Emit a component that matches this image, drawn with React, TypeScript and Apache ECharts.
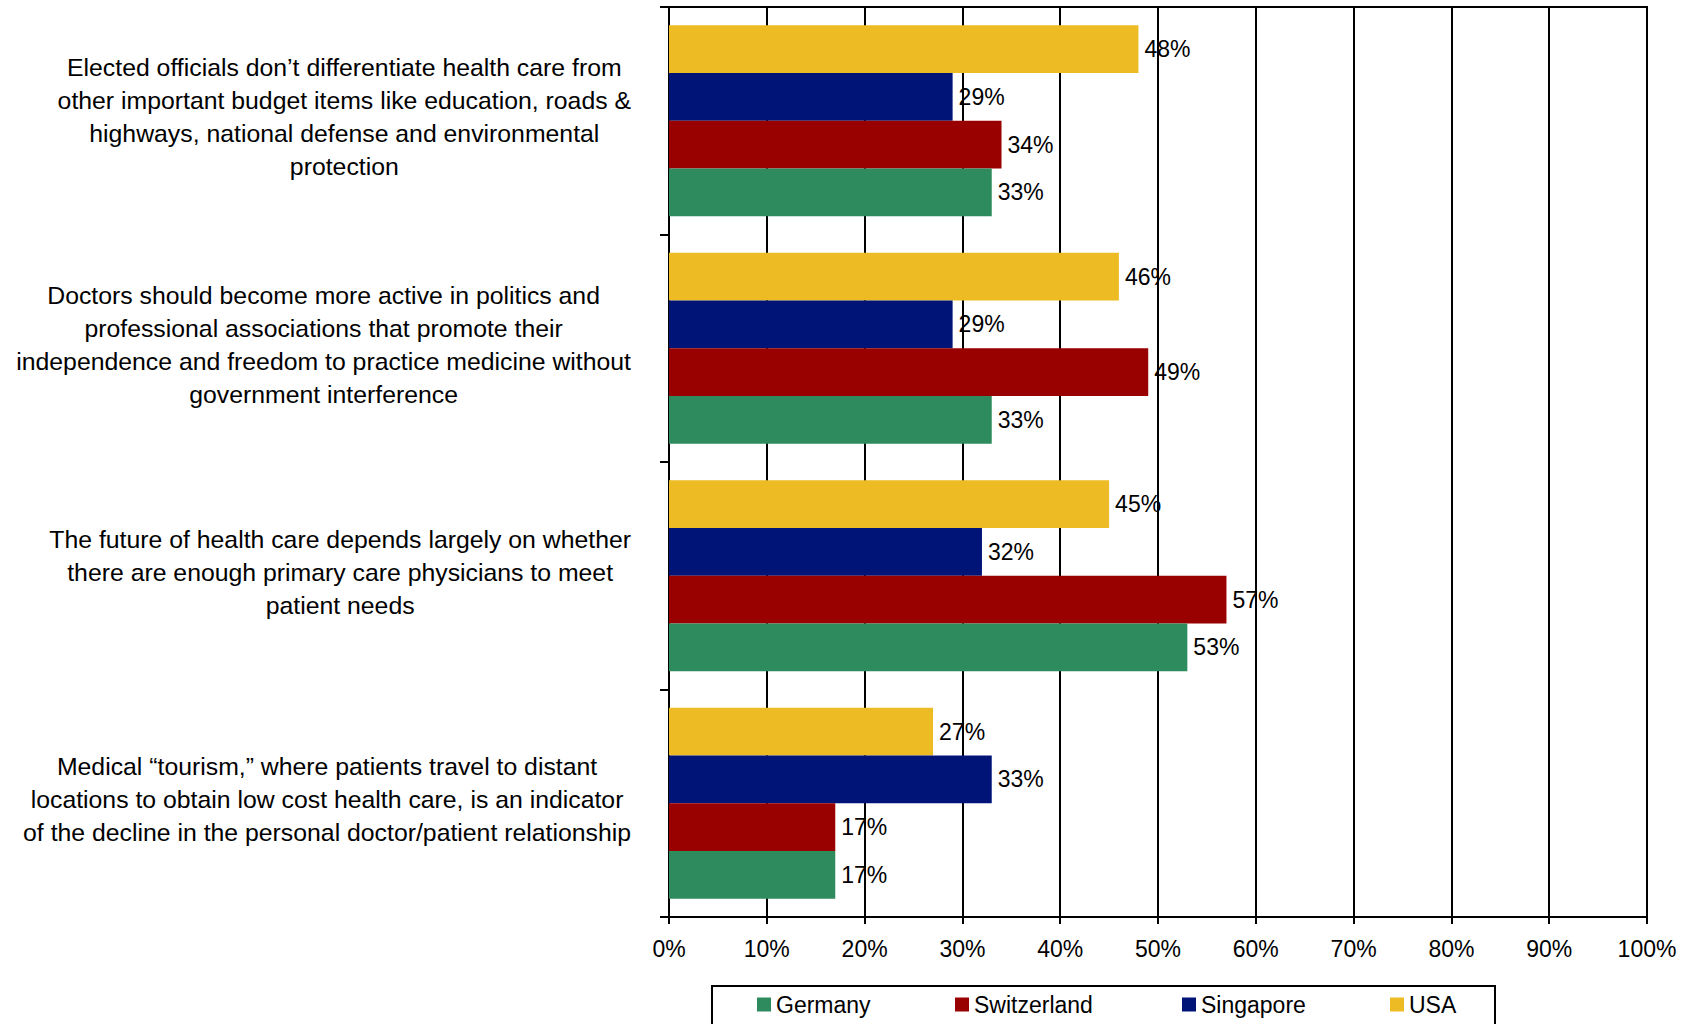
import React, { useEffect, useRef } from "react";
import * as echarts from "echarts";

const categories = [
  "Elected officials don’t differentiate health care from\nother important budget items like education, roads &\nhighways, national defense and environmental\nprotection",
  "Doctors should become more active in politics and\nprofessional associations that promote their\nindependence and freedom to practice medicine without\ngovernment interference",
  "The future of health care depends largely on whether\nthere are enough primary care physicians to meet\npatient needs",
  "Medical “tourism,” where patients travel to distant\nlocations to obtain low cost health care, is an indicator\nof the decline in the personal doctor/patient relationship",
];

const usa = [48, 46, 45, 27];
const singapore = [29, 29, 32, 33];
const switzerland = [34, 49, 57, 17];
const germany = [33, 33, 53, 17];

const xTicks = [0, 10, 20, 30, 40, 50, 60, 70, 80, 90, 100];

const FONT = "'Liberation Sans', Arial, Helvetica, sans-serif";

const colors = {
  Germany: "#2E8B5E",
  Switzerland: "#990000",
  Singapore: "#001478",
  USA: "#EDBB23",
};

export default function App() {
  const ref = useRef<HTMLDivElement>(null);

  useEffect(() => {
    document.body.style.margin = "0";
    document.body.style.overflow = "hidden";
    if (!ref.current) return;
    const chart = echarts.init(ref.current, undefined, { renderer: "svg" });

    const labelCfg = {
      show: true,
      position: "right" as const,
      distance: 6,
      formatter: "{c}%",
      fontSize: 23,
      color: "#000",
      fontFamily: FONT,
      padding: [0, 0, 3, 0],
    };

    const mk = (name: string, data: number[]) => ({
      name,
      type: "bar" as const,
      data,
      barGap: "0%",
      barCategoryGap: "16%",
      itemStyle: { color: (colors as any)[name] },
      label: labelCfg,
    });

    const legendItem = (name: string, left: number) => ({
      show: true,
      data: [name],
      left,
      top: 993,
      padding: 0,
      itemWidth: 14,
      itemHeight: 14,
      icon: "rect",
      textStyle: { fontSize: 23, color: "#000", fontFamily: FONT },
    });

    chart.setOption({
      animation: false,
      backgroundColor: "#fff",
      grid: {
        left: 669,
        right: 39,
        top: 7,
        bottom: 107,
        show: true,
        borderColor: "#000",
        borderWidth: 2,
        containLabel: false,
      },
      legend: [
        legendItem("Germany", 757),
        legendItem("Switzerland", 955),
        legendItem("Singapore", 1182),
        legendItem("USA", 1390),
      ],
      xAxis: {
        type: "value",
        min: xTicks[0],
        max: xTicks[xTicks.length - 1],
        interval: 10,
        axisLine: { show: true, lineStyle: { color: "#000", width: 2 } },
        axisTick: { show: true, length: 7, lineStyle: { color: "#000", width: 2 } },
        splitLine: { show: true, lineStyle: { color: "#000", width: 2 } },
        axisLabel: {
          formatter: "{value}%",
          fontSize: 23,
          color: "#000",
          fontFamily: FONT,
          margin: 20,
        },
      },
      yAxis: {
        type: "category",
        inverse: true,
        data: categories,
        axisLine: { show: true, lineStyle: { color: "#000", width: 2 } },
        axisTick: { show: true, length: 9, lineStyle: { color: "#000", width: 2 } },
        splitLine: { show: false },
        axisLabel: {
          interval: 0,
          margin: 38,
          color: "#000",
          fontFamily: FONT,
          fontSize: 24.8,
          lineHeight: 33,
          padding: [0, 0, 7, 0],
          formatter: (v: string) =>
            v
              .split("\n")
              .map((l) => `{c|${l}}`)
              .join("\n"),
          rich: {
            c: {
              align: "center",
              fontSize: 24.8,
              lineHeight: 33,
              color: "#000",
              fontFamily: FONT,
            },
          },
        },
      },
      graphic: [
        {
          type: "rect",
          shape: { x: 712, y: 986, width: 783, height: 60 },
          style: { fill: "none", stroke: "#000", lineWidth: 2 },
          silent: true,
        },
      ],
      series: [
        mk("USA", usa),
        mk("Singapore", singapore),
        mk("Switzerland", switzerland),
        mk("Germany", germany),
      ],
    });

    return () => chart.dispose();
  }, []);

  return <div ref={ref} style={{ width: 1686, height: 1024 }} />;
}
